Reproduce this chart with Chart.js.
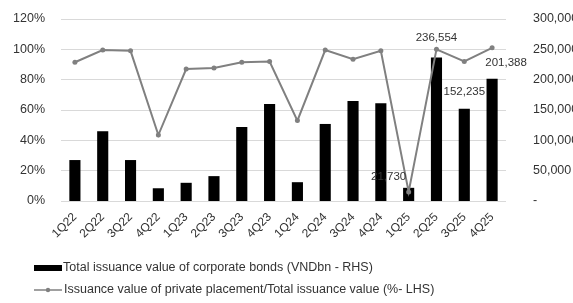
<!DOCTYPE html>
<html>
<head>
<meta charset="utf-8">
<script src="https://cdn.jsdelivr.net/npm/chart.js@4"></script>
<style>
  body { margin: 0; background: #fff; }
  #wrap { width: 573px; height: 303px; position: relative; }
</style>
</head>
<body>
<div id="wrap"><canvas id="chart__bonds"></canvas></div>
<script>
const quarters = [
  "1Q22", "2Q22", "3Q22", "4Q22",
  "1Q23", "2Q23", "3Q23", "4Q23",
  "1Q24", "2Q24", "3Q24", "4Q24",
  "1Q25", "2Q25", "3Q25", "4Q25",
];
// VND bn, right axis
const totalIssuance = [
  67500, 115000, 67500, 21000,
  30000, 41000, 122000, 160000,
  31000, 127000, 165000, 161000,
  21730, 236554, 152235, 201388,
];
// %, left axis
const privateShare = [
  91.5, 99.5, 99, 43.5,
  87, 87.7, 91.5, 92,
  53, 99.5, 93.5, 99,
  6, 100, 92, 101,
];
// bars from this index on get a value label
const firstLabelled = 12;

const barLabel = "Total issuance value of corporate bonds (VNDbn - RHS)";
const lineLabel = "Issuance value of private placement/Total issuance value (%- LHS)";

const FONT = "'Liberation Sans', Arial, sans-serif";
const TEXT = "#333333";
const LINE = "#808080";

// value labels on the last bars
const barValueLabels = {
  id: "barValueLabels",
  afterDatasetsDraw(chart) {
    const ctx = chart.ctx;
    const meta = chart.getDatasetMeta(1);
    const dx = [-20, 0, 0, 14];
    const dy = [-5, -14, -11, -10];
    ctx.save();
    ctx.font = "11.5px " + FONT;
    ctx.textAlign = "center";
    ctx.textBaseline = "bottom";
    totalIssuance.forEach((v, i) => {
      if (i < firstLabelled) return;
      const bar = meta.data[i];
      const k = i - firstLabelled;
      ctx.fillStyle = TEXT;
      ctx.fillText(v.toLocaleString("en-US"), bar.x + dx[k], bar.y + dy[k]);
    });
    ctx.restore();
  },
};

// legend drawn under the axis, one entry per line
const bottomLegend = {
  id: "bottomLegend",
  afterDraw(chart) {
    const ctx = chart.ctx;
    ctx.save();
    ctx.font = "12.5px " + FONT;
    ctx.textBaseline = "middle";
    // bar entry
    ctx.fillStyle = "#000";
    ctx.fillRect(34, 265, 28, 6);
    ctx.fillStyle = TEXT;
    ctx.fillText(barLabel, 63, 268);
    // line entry
    ctx.strokeStyle = LINE;
    ctx.lineWidth = 1.5;
    ctx.beginPath();
    ctx.moveTo(34, 290);
    ctx.lineTo(62, 290);
    ctx.stroke();
    ctx.fillStyle = LINE;
    ctx.beginPath();
    ctx.arc(48, 290, 2.2, 0, Math.PI * 2);
    ctx.fill();
    ctx.fillStyle = TEXT;
    ctx.fillText(lineLabel, 64, 290);
    ctx.restore();
  },
};

// v4 adds ticks.padding to the top/bottom padding of vertical axes, undo that
function fixVerticalAxis(width) {
  return function (scale) {
    scale.width = width;
    scale.paddingTop = 0;
    scale.paddingBottom = 0;
  };
}

const ctx = document.getElementById("chart__bonds");
new Chart(ctx, {
  data: {
    labels: quarters,
    datasets: [
      {
        type: "line",
        label: lineLabel,
        data: privateShare,
        yAxisID: "y",
        borderColor: LINE,
        backgroundColor: LINE,
        borderWidth: 2,
        pointRadius: 2.5,
        pointBackgroundColor: LINE,
        pointBorderWidth: 0,
        tension: 0,
        order: 0,
      },
      {
        type: "bar",
        label: barLabel,
        data: totalIssuance,
        yAxisID: "y1",
        backgroundColor: "#000",
        barPercentage: 0.4,
        categoryPercentage: 1,
        order: 1,
      },
    ],
  },
  options: {
    responsive: true,
    maintainAspectRatio: false,
    animation: false,
    layout: { padding: { top: 19, bottom: 62, left: 0, right: 0 } },
    plugins: {
      legend: { display: false },
      tooltip: { enabled: false },
    },
    scales: {
      x: {
        grid: { display: false },
        border: { display: false },
        ticks: {
          font: { family: FONT, size: 12 },
          color: TEXT,
          minRotation: 45,
          maxRotation: 45,
          padding: 1,
        },
        afterFit(scale) {
          scale.height = 40;
        },
      },
      y: {
        position: "left",
        min: 0,
        max: 120,
        ticks: {
          stepSize: 20,
          font: { family: FONT, size: 12.5 },
          color: TEXT,
          padding: 16,
          callback: (v) => v + "%",
        },
        grid: { color: "#d9d9d9", drawTicks: false },
        border: { display: false },
        afterFit: fixVerticalAxis(61),
      },
      y1: {
        position: "right",
        min: 0,
        max: 300000,
        ticks: {
          stepSize: 50000,
          font: { family: FONT, size: 12.5 },
          color: TEXT,
          padding: 27,
          callback: (v) => (v === 0 ? "-" : v.toLocaleString("en-US")),
        },
        grid: { display: false, drawTicks: false },
        border: { display: false },
        afterFit: fixVerticalAxis(67),
      },
    },
  },
  plugins: [barValueLabels, bottomLegend],
});
</script>
</body>
</html>
